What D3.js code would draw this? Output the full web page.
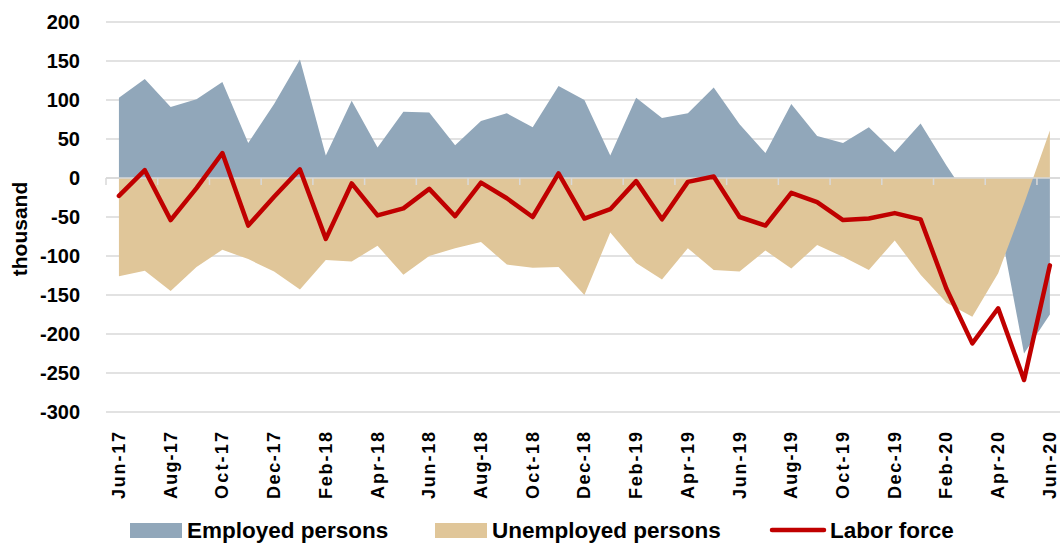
<!DOCTYPE html>
<html>
<head>
<meta charset="utf-8">
<script src="https://cdn.jsdelivr.net/npm/d3@7"></script>
<style>
  body { margin: 0; background: #fff; }
  text { font-family: "Liberation Sans Narrow", "Liberation Sans", Arial, sans-serif; font-weight: bold; fill: #000; }
</style>
</head>
<body>
<svg id="chart" width="1060" height="543"></svg>
<script>
// monthly changes, thousand
let months = ['Jun-17','Jul-17','Aug-17','Sep-17','Oct-17','Nov-17','Dec-17',
    'Jan-18','Feb-18','Mar-18','Apr-18','May-18','Jun-18','Jul-18','Aug-18','Sep-18','Oct-18','Nov-18','Dec-18',
    'Jan-19','Feb-19','Mar-19','Apr-19','May-19','Jun-19','Jul-19','Aug-19','Sep-19','Oct-19','Nov-19','Dec-19',
    'Jan-20','Feb-20','Mar-20','Apr-20','May-20','Jun-20']
let employed = [103, 127, 91, 101, 123, 45, 95, 152, 29, 99, 39, 85, 84, 42, 73, 83, 65, 118, 100,
    29, 103, 77, 83, 116, 69, 32, 95, 54, 45, 65, 33, 70, 16, -34, -49, -225, -175]
let unemployed = [-126, -119, -145, -114, -92, -104, -120, -143, -105, -107, -87, -124, -100, -90, -82, -111, -115, -114, -150,
    -70, -109, -130, -90, -118, -120, -93, -116, -86, -101, -118, -80, -124, -160, -178, -122, -33, 61]
let laborForce = [-23, 10, -54, -13, 32, -61, -24, 11, -78, -7, -48, -39, -14, -49, -6, -26, -50, 6, -52,
    -40, -4, -53, -5, 2, -50, -61, -19, -31, -54, -52, -45, -53, -142, -212, -167, -259, -112]
let yTicks = [200, 150, 100, 50, 0, -50, -100, -150, -200, -250, -300]

let svg = d3.select('#chart')
let margin = {top: 22, left: 106, bottom: 412}

let x = d3.scaleBand()
    .domain(months)
    .range([margin.left, margin.left + 25.86 * months.length])
    .paddingInner(0).paddingOuter(0)
let cx = function (m) { return x(m) + x.bandwidth() / 2 }

let y = d3.scaleLinear()
    .domain([-300, 200])
    .range([margin.bottom, margin.top])

// gridlines
svg.append('g').selectAll('line')
    .data(yTicks)
    .enter().append('line')
    .attr('x1', margin.left).attr('x2', 1060)
    .attr('y1', d => y(d)).attr('y2', d => y(d))
    .attr('stroke', '#d9d9d9').attr('stroke-width', 1.5)

// y labels
svg.append('g').selectAll('text')
    .data(yTicks)
    .enter().append('text')
    .attr('x', 80).attr('y', d => y(d))
    .attr('dy', '0.35em')
    .attr('text-anchor', 'end')
    .style('font-size', '20px')
    .text(d => d)

svg.append('text')
    .attr('transform', 'translate(27,229) rotate(-90)')
    .attr('text-anchor', 'middle')
    .style('font-size', '21px')
    .text('thousand')

// areas: employed first, unemployed on top
let rows = months.map((m, i) => ({m: m, e: employed[i], u: unemployed[i], lf: laborForce[i]}))

svg.append('path')
    .datum(rows)
    .attr('fill', '#91a7ba')
    .attr('d', d3.area().x(d => cx(d.m)).y0(y(0)).y1(d => y(d.e)))

svg.append('path')
    .datum(rows)
    .attr('fill', '#e0c699')
    .attr('d', d3.area().x(d => cx(d.m)).y0(y(0)).y1(d => y(d.u)))

// zero axis with tick marks every 2 months
svg.append('line')
    .attr('x1', margin.left).attr('x2', 1060)
    .attr('y1', y(0)).attr('y2', y(0))
    .attr('stroke', '#d9d9d9').attr('stroke-width', 1.5)
svg.append('g').selectAll('line')
    .data(months.filter((m, i) => i % 2 === 0))
    .enter().append('line')
    .attr('x1', d => x(d)).attr('x2', d => x(d))
    .attr('y1', y(0)).attr('y2', y(0) + 7)
    .attr('stroke', '#d9d9d9').attr('stroke-width', 1.5)

// labor force
svg.append('path')
    .datum(rows)
    .attr('fill', 'none')
    .attr('stroke', '#c00000')
    .attr('stroke-width', 4.5)
    .attr('stroke-linejoin', 'round')
    .attr('stroke-linecap', 'round')
    .attr('d', d3.line().x(d => cx(d.m)).y(d => y(d.lf)))

// x labels
svg.append('g').selectAll('text')
    .data(months.filter((m, i) => i % 2 === 0))
    .enter().append('text')
    .attr('transform', d => 'translate(' + (cx(d) + 6) + ',432) rotate(-90)')
    .attr('text-anchor', 'end')
    .attr('textLength', 67)
    .attr('lengthAdjust', 'spacing')
    .style('font-size', '18px')
    .text(d => d)

// legend
let legend = svg.append('g')
legend.append('rect').attr('x', 130).attr('y', 523).attr('width', 52).attr('height', 15).attr('fill', '#91a7ba')
legend.append('text').attr('x', 187).attr('y', 538).style('font-size', '22.5px').text('Employed persons')
legend.append('rect').attr('x', 435).attr('y', 523).attr('width', 52).attr('height', 15).attr('fill', '#e0c699')
legend.append('text').attr('x', 492).attr('y', 538).style('font-size', '22.5px').text('Unemployed persons')
legend.append('line').attr('x1', 772).attr('x2', 824).attr('y1', 530).attr('y2', 530)
    .attr('stroke', '#c00000').attr('stroke-width', 4.5).attr('stroke-linecap', 'round')
legend.append('text').attr('x', 830).attr('y', 538).style('font-size', '22.5px').text('Labor force')
</script>
</body>
</html>
